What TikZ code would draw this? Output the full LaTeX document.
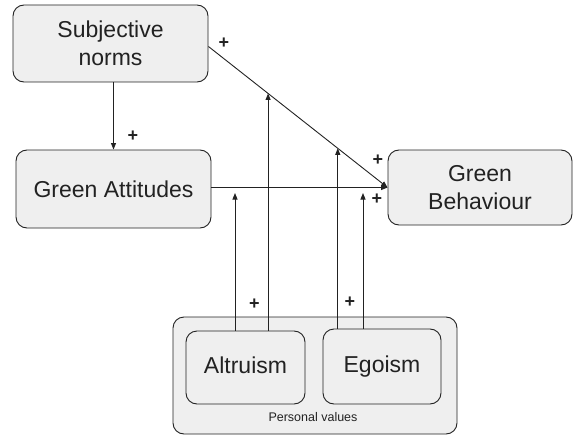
\documentclass[tikz,border=0pt]{standalone}
\usepackage{fontspec}
\setmainfont{Liberation Sans}
\usetikzlibrary{arrows.meta,calc}
\definecolor{boxfill}{HTML}{EFEFEF}
\definecolor{ink}{HTML}{222222}
\tikzset{
  box/.style={draw=ink, line width=0.9pt, fill=boxfill, rounded corners=11pt, inner sep=0pt, align=center, text=ink, font=\fontsize{23}{28}\selectfont},
  arr/.style={draw=ink, line width=0.9pt, -{Triangle[length=6.5pt,width=5pt]}},
  plus/.style={text=ink, font=\bfseries\fontsize{18}{18}\selectfont, inner sep=0pt}
}
\begin{document}
\begin{tikzpicture}[x=1pt,y=-1pt]
\useasboundingbox (0,0) rectangle (573,436);
% boxes
\node[box, minimum width=195pt, minimum height=77pt] (SN) at (110.5,43.5) {Subjective\\norms};
\node[box, minimum width=195pt, minimum height=78pt] (GA) at (113.5,189) {Green Attitudes};
\node[box, minimum width=184pt, minimum height=75pt] (GB) at (480,187.5) {Green\\Behaviour};
\node[box, minimum width=284pt, minimum height=117pt] (PV) at (315,375.5) {};
\node[text=ink, font=\fontsize{12.5}{13}\selectfont, inner sep=0pt] (PVt) at (313,417) {Personal values};
\node[box, minimum width=119pt, minimum height=73pt] (Al) at (245.5,367.5) {\strut Altruism};
\node[box, minimum width=118pt, minimum height=75pt] (Eg) at (382,366.5) {\strut Egoism};
% junction points
\coordinate (S0) at ($(SN.east)+(0,3)$);
\coordinate (T) at (GB.west);
\coordinate (D1) at ($(S0)!0.333!(T)$);
\coordinate (D2) at ($(S0)!0.722!(T)$);
\coordinate (H1) at (235,193);
\coordinate (H2) at (363,193);
% connectors
\draw[arr] (GA.north |- SN.south) -- (GA.north);
\draw[arr] (GA.east |- T) -- (T);
\draw[arr] (S0) -- (T);
\draw[arr] (H1 |- Al.north) -- (H1);
\draw[arr] (D1 |- Al.north) -- (D1);
\draw[arr] (D2 |- Eg.north) -- (D2);
\draw[arr] (H2 |- Eg.north) -- (H2);
% labels
\node[plus] (p1) at (133,136) {+};
\node[plus] (p2) at (224,43) {+};
\node[plus] (p3) at (378,160) {+};
\node[plus] (p4) at (377,199) {+};
\node[plus] (p5) at (254.5,304) {+};
\node[plus] (p6) at (350,302) {+};
\end{tikzpicture}
\end{document}
